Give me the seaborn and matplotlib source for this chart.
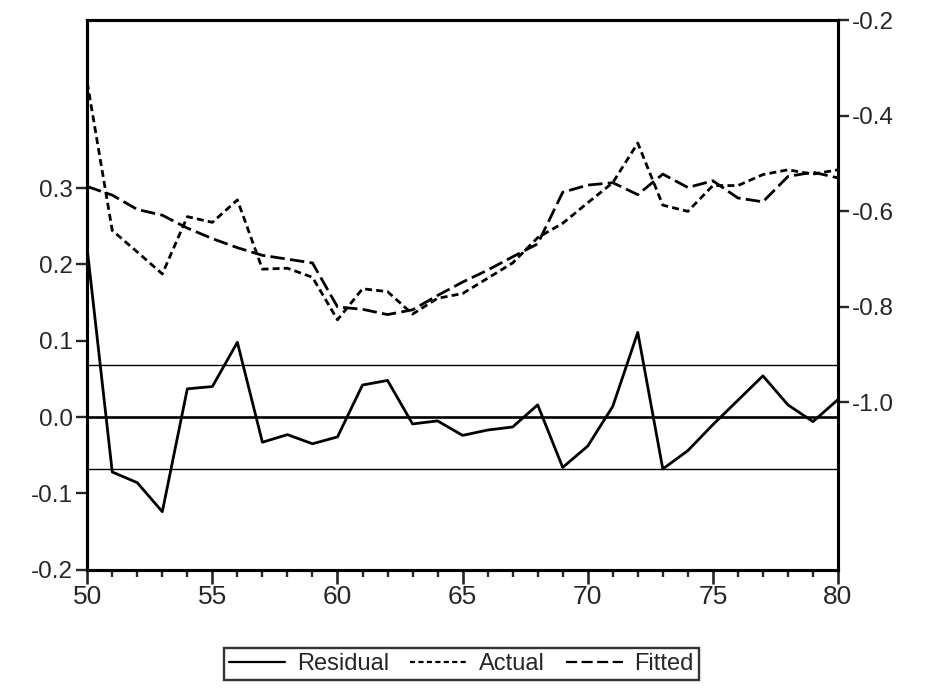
import matplotlib
matplotlib.use("Agg")
import matplotlib.pyplot as plt
import seaborn as sns
import pandas as pd
from matplotlib.lines import Line2D
from matplotlib.ticker import MultipleLocator

# ---- data ----
years = list(range(1950, 1981))
residual = [0.22, -0.072, -0.086, -0.124, 0.037, 0.040, 0.098, -0.033, -0.023, -0.035,
            -0.026, 0.042, 0.048, -0.009, -0.005, -0.024, -0.017, -0.013, 0.016, -0.066,
            -0.038, 0.014, 0.111, -0.068, -0.044, -0.010, 0.022, 0.054, 0.016, -0.006, 0.023]
actual = [-0.33, -0.640, -0.685, -0.731, -0.611, -0.623, -0.576, -0.721, -0.719, -0.738,
          -0.827, -0.762, -0.768, -0.815, -0.782, -0.772, -0.740, -0.708, -0.655, -0.625,
          -0.582, -0.540, -0.457, -0.587, -0.600, -0.546, -0.546, -0.523, -0.513, -0.522, -0.513]
fitted = [-0.548, -0.566, -0.596, -0.608, -0.635, -0.657, -0.676, -0.692, -0.700, -0.708,
          -0.800, -0.805, -0.816, -0.806, -0.776, -0.748, -0.723, -0.695, -0.668, -0.560,
          -0.545, -0.540, -0.565, -0.522, -0.550, -0.536, -0.572, -0.580, -0.527, -0.518, -0.530]
resid_sd = 0.068
x_major = [1950, 1955, 1960, 1965, 1970, 1975, 1980]
x_labels = ["50", "55", "60", "65", "70", "75", "80"]
left_ticks = [-0.2, -0.1, 0.0, 0.1, 0.2, 0.3]
right_ticks = [-1.0, -0.8, -0.6, -0.4, -0.2]
legend_labels = ["Residual", "Actual", "Fitted"]

df = pd.DataFrame({"year": years, "Residual": residual, "Actual": actual, "Fitted": fitted})

sns.set_style("white")
plt.rcParams["font.family"] = ["Liberation Sans", "DejaVu Sans"]
plt.rcParams["axes.unicode_minus"] = False

fig = plt.figure(figsize=(9.28, 6.99), dpi=100)
ax = fig.add_axes([0.094, 0.185, 0.809, 0.786])
ax2 = ax.twinx()

lw = 2.0
actual_dash = (2.5, 1.5)
fitted_dash = (5.2, 1.9)

# reference lines
ax.axhline(0.0, color="black", lw=1.9, zorder=1)
ax.axhline(resid_sd, color="black", lw=1.0, zorder=1)
ax.axhline(-resid_sd, color="black", lw=1.0, zorder=1)

sns.lineplot(data=df, x="year", y="Residual", ax=ax, color="black", lw=lw, legend=False)
sns.lineplot(data=df, x="year", y="Actual", ax=ax2, color="black", lw=lw, legend=False,
             dashes=False, linestyle=(0, actual_dash))
sns.lineplot(data=df, x="year", y="Fitted", ax=ax2, color="black", lw=lw, legend=False,
             dashes=False, linestyle=(0, fitted_dash))

ax.set_xlim(1950, 1980)
ax.set_ylim(-0.2, 0.52)
ax2.set_ylim(-1.35, -0.2)

ax.set_xticks(x_major)
ax.set_xticklabels(x_labels)
ax.xaxis.set_minor_locator(MultipleLocator(1))
ax.set_yticks(left_ticks)
ax.set_yticklabels([f"{v:.1f}" for v in left_ticks])
ax2.set_yticks(right_ticks)
ax2.set_yticklabels([f"{v:.1f}" for v in right_ticks])

for a in (ax, ax2):
    a.set_xlabel("")
    a.set_ylabel("")
    for s in a.spines.values():
        s.set_linewidth(2.2)
        s.set_color("black")

ax.tick_params(axis="x", which="major", direction="out", length=10, width=1.9,
               labelsize=19, pad=1, bottom=True)
ax.tick_params(axis="x", which="minor", direction="out", length=5, width=1.7, bottom=True)
ax.tick_params(axis="y", which="major", direction="out", length=8, width=1.7,
               labelsize=17.5, pad=2, left=True)
ax2.tick_params(axis="y", which="major", direction="out", length=8, width=1.7,
                labelsize=17.5, pad=2, right=True)

handles = [
    Line2D([], [], color="black", lw=1.6),
    Line2D([], [], color="black", lw=1.6, linestyle=(0, (2.3, 1.5))),
    Line2D([], [], color="black", lw=1.6, linestyle=(0, (5.0, 2.0))),
]
leg = fig.legend(handles, legend_labels, loc="center", bbox_to_anchor=(0.497, 0.05),
                 ncol=3, frameon=True, fancybox=False, fontsize=17,
                 handlelength=2.4, columnspacing=0.9, handletextpad=0.5,
                 borderpad=0.2)
leg.get_frame().set_edgecolor("black")
leg.get_frame().set_linewidth(1.7)

fig.savefig("out.png", dpi=100, facecolor="white")
